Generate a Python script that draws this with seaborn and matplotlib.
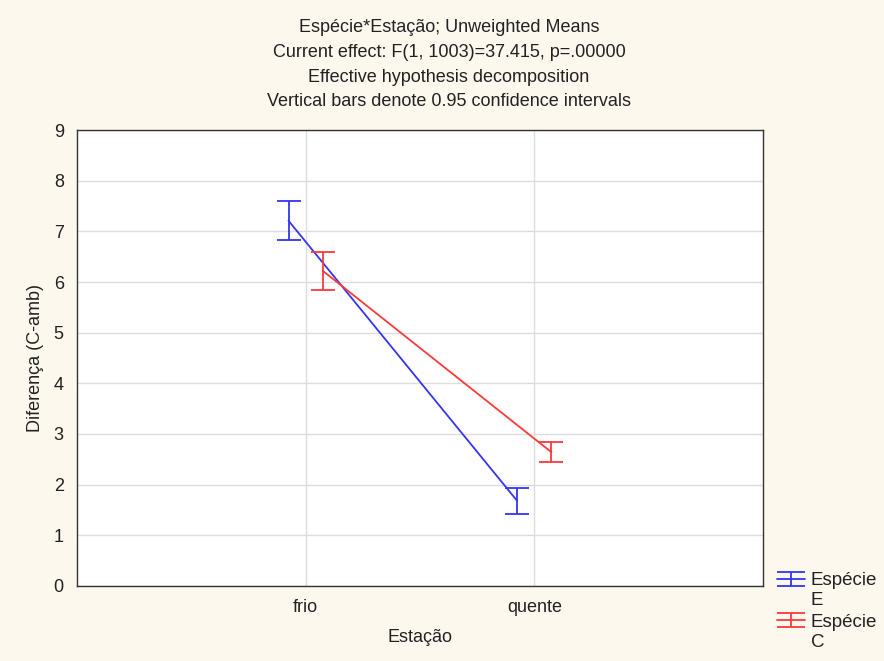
import matplotlib
matplotlib.use("Agg")
import matplotlib.pyplot as plt
from matplotlib.legend_handler import HandlerTuple, HandlerErrorbar
from matplotlib.container import ErrorbarContainer
from matplotlib.lines import Line2D
from matplotlib.transforms import Affine2D
import seaborn as sns
import pandas as pd

# Unweighted means and 0.95 confidence half-widths per species and season
seasons = ["frio", "quente"]
species = ["Espécie\nE", "Espécie\nC"]
means_E = [7.21, 1.68]
ci_E = [0.39, 0.26]
means_C = [6.22, 2.64]
ci_C = [0.375, 0.195]
colors = ["#3434f4", "#fb3a3a"]

title_lines = [
    "Espécie*Estação; Unweighted Means",
    "Current effect: F(1, 1003)=37.415, p=.00000",
    "Effective hypothesis decomposition",
    "Vertical bars denote 0.95 confidence intervals",
]


class TopAlignedTuple(HandlerTuple):
    """Tuple handler that lifts the key up to the first line of a two-line label."""

    def __init__(self, lift=8.6, **kw):
        super().__init__(**kw)
        self.lift = lift

    def create_artists(self, legend, orig_handle, xdescent, ydescent,
                       width, height, fontsize, trans):
        shifted = Affine2D().translate(0, self.lift) + trans
        arts = super().create_artists(legend, orig_handle, xdescent, ydescent,
                                      width, height, fontsize, trans)
        for a in arts:
            a.set_transform(shifted)
        return arts


def widen_caps(handle, orig):
    # copy the usual style, then stretch the cap markers across the key
    handle.update_from(orig)
    if isinstance(handle, Line2D):
        handle.set_markersize(20)


sns.set_theme(style="whitegrid")
plt.rcParams["font.family"] = ["Liberation Sans", "DejaVu Sans"]

df = pd.DataFrame({
    "Estação": seasons * 2,
    "Espécie": [species[0]] * 2 + [species[1]] * 2,
    "Diferença": means_E + means_C,
})

fs = 13
txt = "#222222"
bg = "#fdf8ee"
fig = plt.figure(figsize=(8.84, 6.61), dpi=100, facecolor=bg)
ax = fig.add_axes([0.0871, 0.1135, 0.776, 0.6898])
ax.set_facecolor("white")

dodge = 0.15
sns.pointplot(data=df, x="Estação", y="Diferença", hue="Espécie",
              order=seasons, hue_order=species, palette=colors,
              dodge=dodge, errorbar=None, markers="", linestyles="-",
              ax=ax, legend=False)
for ln in ax.lines:
    ln.set_linewidth(1.3)

handles = []
for i, (m, ci, col) in enumerate([(means_E, ci_E, colors[0]), (means_C, ci_C, colors[1])]):
    off = -dodge / 2 if i == 0 else dodge / 2
    xs = [j + off for j in range(len(seasons))]
    eb = ax.errorbar(xs, m, yerr=ci, fmt="none", ecolor=col, elinewidth=1.3,
                     capsize=8.3, capthick=1.3, zorder=4)
    handles.append((ax.lines[i], eb))

ax.set_xlim(-1, 2)
ax.set_ylim(0, 9)
ax.set_yticks(range(10))
ax.grid(True, color="#dcdcdc", linewidth=1.0)
ax.set_axisbelow(True)
for s in ax.spines.values():
    s.set_color("#333333")
    s.set_linewidth(1.0)
ax.tick_params(axis="both", labelsize=fs, colors=txt, length=3,
               direction="in", pad=9.5)
ax.set_xlabel("Estação", fontsize=fs, color=txt, labelpad=9)
ax.set_ylabel("Diferença (C-amb)", fontsize=fs, color=txt, labelpad=7)

for k, t in enumerate(title_lines):
    fig.text(0.508, 1 - (28 + 24.6 * k) / 661, t, ha="center", va="center",
             fontsize=fs, color=txt)

fig.legend(handles, species,
           handler_map={tuple: TopAlignedTuple(ndivide=1),
                        ErrorbarContainer: HandlerErrorbar(xerr_size=0.37,
                                                           update_func=widen_caps)},
           loc="upper left", bbox_to_anchor=(0.879, 0.134), frameon=False,
           fontsize=13.5, handlelength=1.5, handletextpad=0.3,
           labelspacing=0.27, borderaxespad=0.0, borderpad=0.0,
           labelcolor=txt)

fig.savefig("out.png", dpi=100, facecolor=bg)
